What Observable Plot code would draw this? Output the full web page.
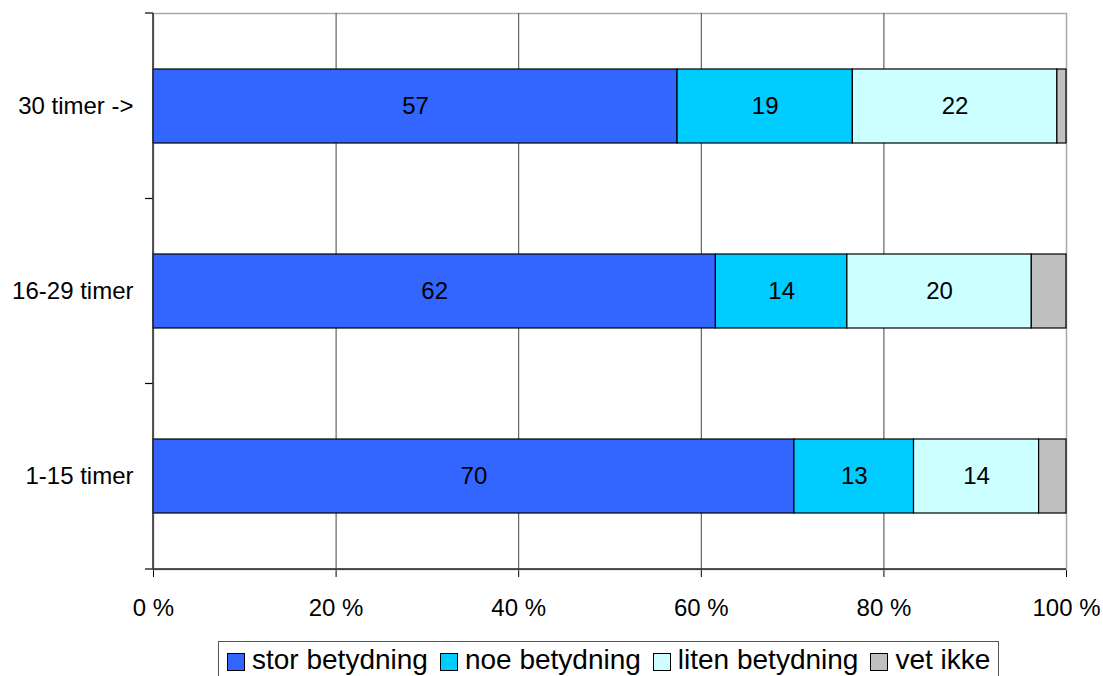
<!DOCTYPE html>
<html>
<head>
<meta charset="utf-8">
<script src="https://cdn.jsdelivr.net/npm/d3@7"></script>
<script src="https://cdn.jsdelivr.net/npm/@observablehq/plot@0.6"></script>
<style>
  body { margin: 0; background: #fff; font-family: "Liberation Sans", Arial, sans-serif; }
  #chart { position: relative; width: 1103px; height: 676px; overflow: hidden; }
  #legend {
    position: absolute; left: 218px; top: 641px; width: 781px; height: 50px;
    border: 1px solid #555; box-sizing: border-box; background: #fff;
    display: flex; align-items: flex-start; padding: 2px 0 0 8px;
    font-size: 28px; line-height: 32px; color: #000;
  }
  .item { display: flex; align-items: center; margin-right: 12px; white-space: nowrap; }
  .sw { width: 18px; height: 18px; border: 1px solid #000; box-sizing: border-box; margin-right: 7px; margin-top: 3px; }
</style>
</head>
<body>
<div id="chart"></div>
<script>
const categories = ["30 timer ->", "16-29 timer", "1-15 timer"];
const seriesNames = ["stor betydning", "noe betydning", "liten betydning", "vet ikke"];
const seriesColors = ["#3366FF", "#00CCFF", "#CCFFFF", "#C0C0C0"];
const storValues  = [57.4, 61.6, 70.2];
const noeValues   = [19.2, 14.4, 13.1];
const litenValues = [22.4, 20.2, 13.7];
const vetValues   = [1.0, 3.8, 3.0];
const xTicks = [0, 20, 40, 60, 80, 100];
const gridTicks = [20, 40, 60, 80];

const seriesValues = [storValues, noeValues, litenValues, vetValues];
const data = [];
seriesNames.forEach((s, si) => {
  categories.forEach((c, ci) => {
    data.push({cat: c, series: s, value: seriesValues[si][ci], labeled: si < 3});
  });
});

// custom mark: bottom axis line and category-boundary ticks on the y axis
function boundaryTicks(index, scales, values, dimensions) {
  const {width, height, marginTop, marginBottom, marginLeft, marginRight} = dimensions;
  const y = scales.y;
  const bw = y.bandwidth ? y.bandwidth() : 0;
  const centers = categories.map(c => y(c) + bw / 2);
  const bounds = [marginTop];
  for (let i = 0; i < centers.length - 1; i++) bounds.push((centers[i] + centers[i + 1]) / 2);
  bounds.push(height - marginBottom);
  const g = d3.create("svg:g");
  g.selectAll("line.t").data(bounds).join("line")
    .attr("x1", marginLeft - 8).attr("x2", marginLeft)
    .attr("y1", d => d).attr("y2", d => d)
    .attr("stroke", "#000").attr("stroke-width", 1.2);
  g.append("line")
    .attr("x1", marginLeft).attr("x2", width - marginRight)
    .attr("y1", height - marginBottom).attr("y2", height - marginBottom)
    .attr("stroke", "#222").attr("stroke-width", 1.3);
  g.append("line")
    .attr("x1", marginLeft).attr("x2", marginLeft)
    .attr("y1", marginTop).attr("y2", height - marginBottom)
    .attr("stroke", "#333").attr("stroke-width", 1.6);
  return g.node();
}

const chart = Plot.plot({
  width: 1103,
  height: 636,
  marginLeft: 153,
  marginRight: 37,
  marginTop: 13,
  marginBottom: 67,
  style: {fontFamily: "'Liberation Sans', Arial, sans-serif", fontSize: "24px", color: "#000", background: "#fff"},
  x: {domain: [0, 100], ticks: xTicks, tickFormat: d => d + " %", tickSize: 8, tickPadding: 21, label: null},
  y: {domain: categories, paddingInner: 0.6, paddingOuter: 0.3, tickSize: 0, tickPadding: 20, label: null},
  color: {domain: seriesNames, range: seriesColors},
  marks: [
    Plot.frame({stroke: "#aaa", strokeWidth: 1.5}),
    Plot.ruleX(gridTicks, {stroke: "#444", strokeWidth: 1}),
    Plot.barX(data, Plot.stackX({x: "value", y: "cat", z: "series", fill: "series", stroke: "#000", strokeWidth: 1.2})),
    Plot.text(data, Plot.stackX({
      filter: d => d.labeled, x: "value", y: "cat", z: "series",
      text: d => String(Math.round(d.value)), fill: "#000", fontSize: 24
    })),
    boundaryTicks
  ]
});
document.getElementById("chart").appendChild(chart);

const legend = d3.select("#chart").append("div").attr("id", "legend");
seriesNames.forEach((s, i) => {
  const it = legend.append("div").attr("class", "item");
  it.append("div").attr("class", "sw").style("background", seriesColors[i]);
  it.append("span").text(s);
});
</script>
</body>
</html>
